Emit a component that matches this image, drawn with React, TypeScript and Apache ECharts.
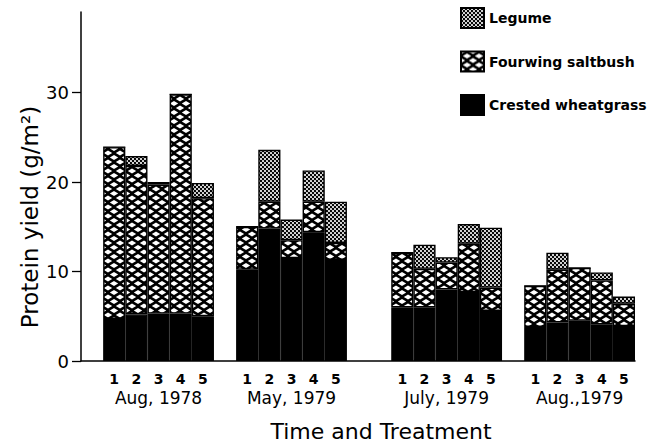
import React, { useEffect, useRef } from "react";
import * as echarts from "echarts";

const groups = ["Aug, 1978", "May, 1979", "July, 1979", "Aug.,1979"];
const treatments = ["1", "2", "3", "4", "5"];
const gapSlotsBefore = [1, 1, 2, 1];
const crested = [4.7, 5.2, 5.3, 5.3, 5.0, 10.2, 14.8, 11.5, 14.4, 11.3, 6.0, 6.0, 8.0, 7.7, 5.6, 3.8, 4.3, 4.5, 4.1, 3.9];
const saltbush = [19.2, 16.6, 14.4, 24.5, 13.2, 4.8, 3.0, 2.0, 3.4, 1.9, 6.1, 4.3, 3.0, 5.4, 2.6, 4.6, 5.9, 5.9, 4.9, 2.5];
const legume = [0, 1.1, 0.3, 0, 1.7, 0, 5.8, 2.3, 3.5, 4.6, 0, 2.7, 0.6, 2.2, 6.7, 0, 1.9, 0, 0.9, 0.8];
const yMax = 39;
const yInterval = 10;

const FONT = "DejaVu Sans";

function makeCross() {
  const w = 12, h = 9;
  const c = document.createElement("canvas");
  c.width = w; c.height = h;
  const ctx = c.getContext("2d")!;
  ctx.fillStyle = "#000";
  ctx.fillRect(0, 0, w, h);
  ctx.fillStyle = "#fff";
  const diamond = (cx: number, cy: number) => {
    ctx.beginPath();
    ctx.moveTo(cx - 4.2, cy);
    ctx.lineTo(cx, cy - 2.6);
    ctx.lineTo(cx + 4.2, cy);
    ctx.lineTo(cx, cy + 2.6);
    ctx.closePath();
    ctx.fill();
  };
  diamond(w / 2, h / 2);
  [[0, 0], [w, 0], [0, h], [w, h]].forEach(([x, y]) => diamond(x, y));
  return { image: c.toDataURL(), repeat: "repeat", imageWidth: w, imageHeight: h };
}

function makeDots() {
  const w = 4, h = 4;
  const c = document.createElement("canvas");
  c.width = w; c.height = h;
  const ctx = c.getContext("2d")!;
  ctx.fillStyle = "#fff";
  ctx.fillRect(0, 0, w, h);
  ctx.fillStyle = "#000";
  [[1, 1], [3, 3], [1, 5], [5, 1], [-1, 3], [3, -1]].forEach(([x, y]) => {
    ctx.beginPath();
    ctx.arc(x, y, 1.2, 0, Math.PI * 2);
    ctx.fill();
  });
  return { image: c.toDataURL(), repeat: "repeat", imageWidth: w, imageHeight: h };
}

export default function App() {
  const ref = useRef<HTMLDivElement>(null);
  useEffect(() => {
    if (!ref.current) return;
    const chart = echarts.init(ref.current, null, { renderer: "svg" });

    const slots: string[] = [];
    const labels: string[] = [];
    const idx: number[] = [];
    groups.forEach((g, gi) => {
      for (let k = 0; k < gapSlotsBefore[gi]; k++) {
        slots.push(`gap-${gi}-${k}`);
        labels.push("");
        idx.push(-1);
      }
      treatments.forEach((t, ti) => {
        slots.push(`${g}-${t}`);
        labels.push(ti === 2 ? `{n|${t}}\n{g|${g}}` : `{n|${t}}`);
        idx.push(gi * treatments.length + ti);
      });
    });
    const pick = (arr: number[]) => idx.map((i) => (i < 0 ? null : arr[i]));

    const border = { borderColor: "#000", borderWidth: 1.4 };
    const option: any = {
      animation: false,
      backgroundColor: "#fff",
      textStyle: { fontFamily: FONT, color: "#000" },
      grid: { left: 81, right: 37, top: 12, bottom: 84, containLabel: false, outerBoundsMode: "none" },
      legend: {
        data: ["Legume", "Fourwing saltbush", "Crested wheatgrass"],
        orient: "vertical",
        left: 455,
        top: 2,
        itemWidth: 23,
        itemHeight: 20,
        itemGap: 21.5,
        icon: "rect",
        textStyle: { fontFamily: FONT, fontSize: 14, fontWeight: "bold", color: "#000" },
      },
      xAxis: {
        type: "category",
        data: slots,
        axisLine: { lineStyle: { color: "#000", width: 1.5 } },
        axisTick: { show: false },
        axisLabel: {
          interval: 0,
          margin: 9,
          formatter: (_v: string, i: number) => labels[i],
          rich: {
            n: { fontFamily: FONT, fontSize: 14, fontWeight: "bold", color: "#000", lineHeight: 18 },
            g: { fontFamily: FONT, fontSize: 17, color: "#000", lineHeight: 19 },
          },
        },
      },
      yAxis: {
        type: "value",
        min: 0,
        max: yMax,
        interval: yInterval,
        splitLine: { show: false },
        axisLine: { show: true, lineStyle: { color: "#000", width: 1.5 } },
        axisTick: { show: true, length: 9, lineStyle: { color: "#000", width: 1.3 } },
        axisLabel: { showMaxLabel: false, margin: 12, fontFamily: FONT, fontSize: 18, color: "#000" },
      },
      graphic: [
        {
          type: "text",
          x: 30,
          y: 217,
          rotation: Math.PI / 2,
          style: { text: "Protein yield (g/m²)", font: `23px "${FONT}"`, fill: "#000", align: "center", verticalAlign: "middle" },
        },
        {
          type: "text",
          x: 381,
          y: 431,
          style: { text: "Time and Treatment", font: `22px "${FONT}"`, fill: "#000", align: "center", verticalAlign: "middle" },
        },
      ],
      series: [
        {
          name: "Crested wheatgrass",
          type: "bar",
          stack: "total",
          barCategoryGap: "0%",
          itemStyle: { color: "#000", ...border },
          data: pick(crested),
        },
        {
          name: "Fourwing saltbush",
          type: "bar",
          stack: "total",
          barCategoryGap: "0%",
          itemStyle: { color: makeCross(), ...border },
          data: pick(saltbush),
        },
        {
          name: "Legume",
          type: "bar",
          stack: "total",
          barCategoryGap: "0%",
          itemStyle: { color: makeDots(), ...border },
          data: pick(legume),
        },
      ],
    };
    chart.setOption(option);
    return () => chart.dispose();
  }, []);
  return <div ref={ref} style={{ position: "absolute", left: 0, top: 0, width: 672, height: 445 }} />;
}
